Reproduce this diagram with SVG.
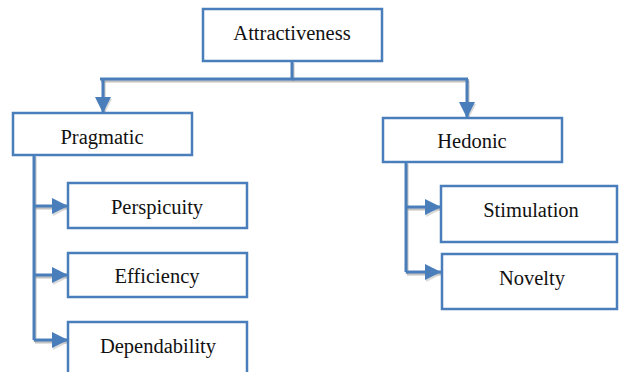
<svg xmlns="http://www.w3.org/2000/svg" width="619" height="372" viewBox="0 0 619 372">
<style>
.box{fill:#fff;stroke:#4a7ebb;stroke-width:2.5}
.lbl{font-family:"Liberation Serif","Times New Roman",serif;font-size:20.5px;fill:#111;text-anchor:middle}
.ln{fill:none;stroke:#4a7ebb;stroke-width:3}
.sh{fill:none;stroke:#9a9a9a;stroke-width:3;opacity:0.6}
</style>
<defs>
<marker id="ah" markerUnits="userSpaceOnUse" markerWidth="16" markerHeight="16" viewBox="0 0 16 16" refX="16" refY="8" orient="auto">
<path d="M0,0 L16,8 L0,16 Z" fill="#4a7ebb"/>
</marker>
<marker id="ahs" markerUnits="userSpaceOnUse" markerWidth="16" markerHeight="16" viewBox="0 0 16 16" refX="16" refY="8" orient="auto">
<path d="M0,0 L16,8 L0,16 Z" fill="#9a9a9a" opacity="0.6"/>
</marker>
</defs>
<g id="connectors">
<g transform="translate(1,2)">
<path class="sh" d="M292,61 V79"/>
<path class="sh" d="M100,79 H468"/>
<path class="sh" d="M103,79 V113" marker-end="url(#ahs)"/>
<path class="sh" d="M467,79 V118" marker-end="url(#ahs)"/>
<path class="sh" d="M34,155 V340"/>
<path class="sh" d="M34,206 H68" marker-end="url(#ahs)"/>
<path class="sh" d="M34,275 H68" marker-end="url(#ahs)"/>
<path class="sh" d="M34,340 H68" marker-end="url(#ahs)"/>
<path class="sh" d="M406,162 V272"/>
<path class="sh" d="M406,207 H441" marker-end="url(#ahs)"/>
<path class="sh" d="M406,272 H441" marker-end="url(#ahs)"/>
</g>
<path class="ln" d="M292,61 V79"/>
<path class="ln" d="M100,79 H468"/>
<path class="ln" d="M103,79 V113" marker-end="url(#ah)"/>
<path class="ln" d="M467,79 V118" marker-end="url(#ah)"/>
<path class="ln" d="M34,155 V340"/>
<path class="ln" d="M34,206 H68" marker-end="url(#ah)"/>
<path class="ln" d="M34,275 H68" marker-end="url(#ah)"/>
<path class="ln" d="M34,340 H68" marker-end="url(#ah)"/>
<path class="ln" d="M406,162 V272"/>
<path class="ln" d="M406,207 H441" marker-end="url(#ah)"/>
<path class="ln" d="M406,272 H441" marker-end="url(#ah)"/>
</g>
<g id="attractiveness"><rect class="box" x="203" y="9" width="179" height="52"/><text class="lbl" x="292" y="40">Attractiveness</text></g>
<g id="pragmatic"><rect class="box" x="13" y="113" width="179" height="42"/><text class="lbl" x="102" y="144">Pragmatic</text></g>
<g id="hedonic"><rect class="box" x="383" y="118" width="179" height="44"/><text class="lbl" x="472" y="148">Hedonic</text></g>
<g id="perspicuity"><rect class="box" x="68" y="183" width="179" height="45"/><text class="lbl" x="157" y="214">Perspicuity</text></g>
<g id="efficiency"><rect class="box" x="68" y="253" width="179" height="44"/><text class="lbl" x="157" y="283">Efficiency</text></g>
<g id="dependability"><rect class="box" x="68" y="322" width="179" height="60"/><text class="lbl" x="158" y="353">Dependability</text></g>
<g id="stimulation"><rect class="box" x="441" y="186" width="176" height="56"/><text class="lbl" x="531" y="217">Stimulation</text></g>
<g id="novelty"><rect class="box" x="442" y="254" width="175" height="55"/><text class="lbl" x="532" y="285">Novelty</text></g>
</svg>
